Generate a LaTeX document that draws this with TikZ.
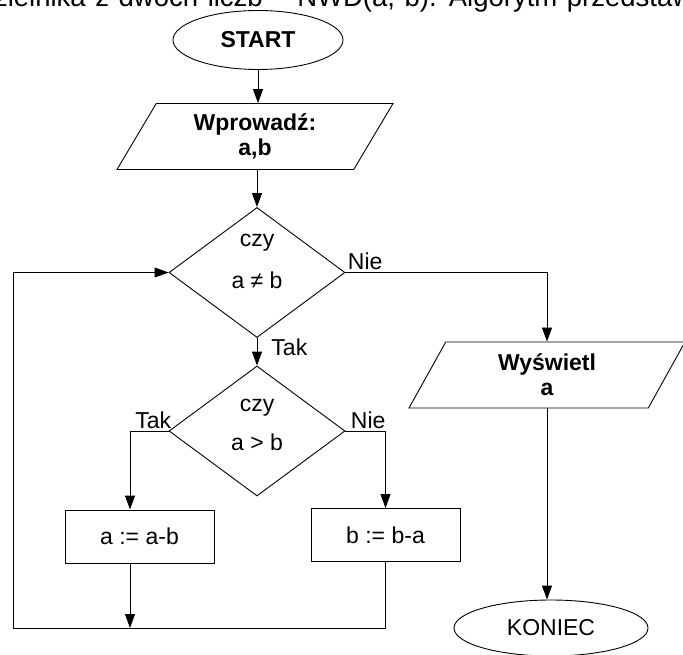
\documentclass[tikz,border=0pt]{standalone}
\usepackage{fontspec}
\setmainfont{Liberation Sans}
\usetikzlibrary{shapes.geometric,arrows.meta}

\begin{document}
\begin{tikzpicture}[
x=1pt, y=-1pt,
line width=0.9pt,
>={Triangle[width=10pt,length=14pt]},
font=\fontsize{23}{25}\selectfont,
terminal/.style = {draw, ellipse, inner sep=0pt},
io/.style = {draw, trapezium, trapezium left angle=53, trapezium right angle=127,
  trapezium stretches body, minimum width=276pt, minimum height=66pt, align=center, font=\fontsize{23}{25}\selectfont\bfseries},
decision/.style = {draw, diamond, minimum width=176pt, minimum height=130pt, inner sep=0pt},
box/.style = {draw, rectangle, minimum width=149pt, minimum height=53pt},
lbl/.style = {inner sep=2pt} ]
\useasboundingbox (0,0) rectangle (683,655);
\clip (0,0) rectangle (683,655);

\node[anchor=base west, font=\fontsize{27.5}{28}\selectfont] (0) at (-25,7) {\spaceskip=9.6pt dzielnika z dwóch liczb – NWD(a, b). Algorytm przedstawiony};

\node[terminal, minimum width=170pt, minimum height=59pt] (1) at (258,40) {\textbf{START}};
\node[io] (2) at (255,136.5) {Wprowadź:\\a,b};
\node[decision] (3) at (257,272.5) {};
\node (9) at (257,243) {czy};
\node (10) at (257,280) {a ≠ b};
\node[decision] (4) at (257,431) {};
\node (11) at (257,408) {czy};
\node (12) at (257,442) {a > b};
\node[box] (5) at (139.5,536.5) {a := a-b};
\node[box] (6) at (385.5,535) {b := b-a};
\node[io] (7) at (547,375) {Wyświetl\\a};
\node[terminal, minimum width=194pt, minimum height=56pt] (8) at (551,628) {KONIEC};
\coordinate (loop) at (13,628);

\draw[->] (1.south) -- (1.south |- 2.north);
\draw[->] (2.south -| 3.north) -- (3.north);
\draw[->] (3.east) node[lbl, above right] {Nie} -| (7.north);
\draw[->] (3.south) -- node[lbl, pos=0.35, right, xshift=12pt] {Tak} (4.north);
\draw[->] (4.west) node[lbl, above left, xshift=5pt] {Tak} -| ([xshift=-9.5pt]5.north);
\draw[->] (4.east) node[lbl, above right, xshift=3pt] {Nie} -| (6.north);
\draw[->] ([xshift=-9.5pt]5.south) -- ([xshift=-9.5pt]5.south |- loop);
\draw[->] (6.south) |- (loop) |- (3.west);
\draw[->] (7.south) -- (7.south |- 8.north);

\end{tikzpicture}
\end{document}
